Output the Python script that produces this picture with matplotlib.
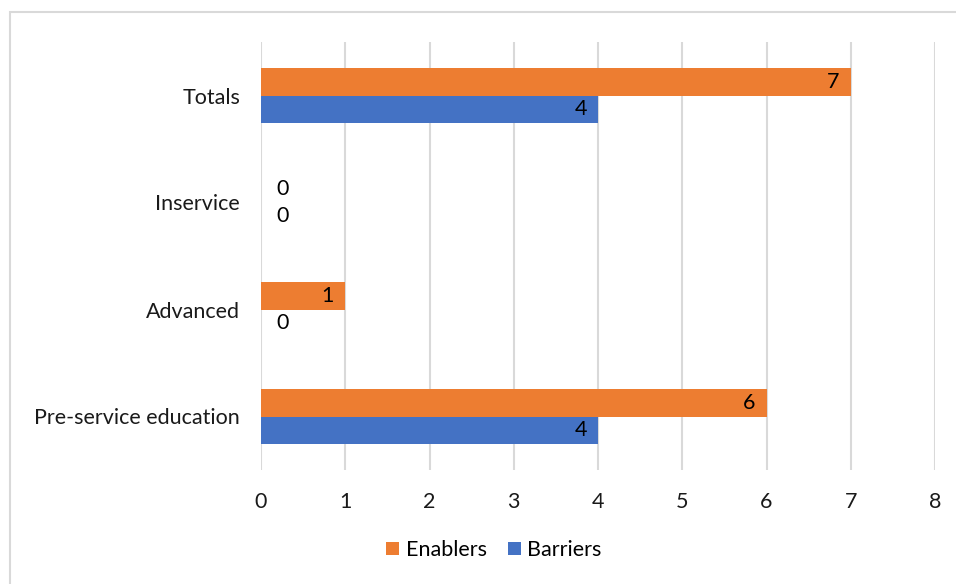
import numpy as np
import matplotlib.pyplot as plt
from matplotlib.patches import Rectangle

categories = ["Pre-service education", "Advanced", "Inservice", "Totals"]
enablers = [6, 1, 0, 7]
barriers = [4, 0, 0, 4]

orange = "#ed7d31"
blue = "#4472c4"

plt.rcParams['font.family'] = ['Lato', 'DejaVu Sans']
fs = 15.5

fig = plt.figure(figsize=(9.56, 5.84), dpi=100)
ax = fig.add_axes([261/956, 1 - 470/584, 674/956, 428/584])

# light border around the chart area (cropped at right/bottom)
fig.patches.append(Rectangle((10/956, -0.05), 1.1, 1 - 12/584 + 0.05,
                             transform=fig.transFigure, fill=False,
                             edgecolor="#d9d9d9", linewidth=1.5))

y = np.arange(len(categories))
h = 0.26
b1 = ax.barh(y + h/2, enablers, height=h, color=orange, label="Enablers")
b2 = ax.barh(y - h/2, barriers, height=h, color=blue, label="Barriers")

for bars, vals in [(b1, enablers), (b2, barriers)]:
    for bar, v in zip(bars, vals):
        cy = bar.get_y() + bar.get_height()/2
        if v > 0:
            ax.annotate(str(v), (v, cy), xytext=(-8, 0), textcoords="offset points",
                        ha="right", va="center", fontsize=fs, color="#000000")
        else:
            ax.annotate(str(v), (0, cy), xytext=(11, 0), textcoords="offset points",
                        ha="left", va="center", fontsize=fs, color="#000000")

ax.set_xlim(0, 8)
ax.set_ylim(-0.5, 3.5)
ax.set_xticks(range(0, 9))
ax.set_yticks(y)
ax.set_yticklabels(categories)
ax.grid(axis="x", color="#d9d9d9", linewidth=1.5)
ax.set_axisbelow(True)
for s in ax.spines.values():
    s.set_visible(False)
ax.tick_params(length=0, labelsize=fs, colors="#1a1a1a")
ax.tick_params(axis="x", pad=16)
ax.tick_params(axis="y", pad=15)

ax.legend(loc="center", bbox_to_anchor=(494/956, 1 - 550/584), bbox_transform=fig.transFigure,
          ncol=2, frameon=False, fontsize=fs, handlelength=0.6, handleheight=0.6,
          handletextpad=0.3, columnspacing=1.0)

fig.savefig("out.png", dpi=100)
